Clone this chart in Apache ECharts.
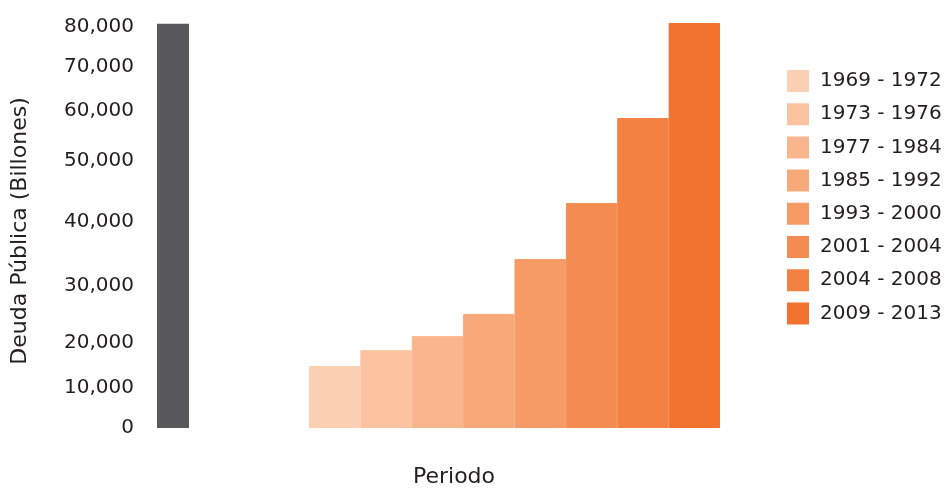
<!DOCTYPE html>
<html>
<head>
<meta charset="utf-8">
<style>
  html, body { margin: 0; padding: 0; background: #ffffff; }
  #chart { width: 944px; height: 489px; }
</style>
<script src="https://cdn.jsdelivr.net/npm/echarts@6/dist/echarts.min.js"></script>
</head>
<body>
<div id="chart"></div>
<script>
// Public debt per presidential period (billions)
const periods = ['1969 - 1972', '1973 - 1976', '1977 - 1984', '1985 - 1992',
                 '1993 - 2000', '2001 - 2004', '2004 - 2008', '2009 - 2013'];
const debt = [14900, 18400, 21200, 25100, 34200, 43100, 58600, 81000];
const referenceDebt = [80800];
const tickValues = [0, 10000, 20000, 30000, 40000, 50000, 60000, 70000, 80000];

const periodColors = ['#fcd1b3', '#fbc39f', '#f9b58b', '#f7a979',
                      '#f69a66', '#f48c52', '#f38141', '#f2732d'];

// The value axis is stretched unevenly between its ticks: each tick
// value is paired with the height (in axis units) where it sits.
const tickHeights = [0, 40, 85, 142, 206, 267, 317, 361, 401];

function toAxis(v) {
  for (let i = 1; i < tickValues.length; i++) {
    if (v <= tickValues[i] || i === tickValues.length - 1) {
      const v0 = tickValues[i - 1], v1 = tickValues[i];
      const h0 = tickHeights[i - 1], h1 = tickHeights[i];
      return h0 + (v - v0) * (h1 - h0) / (v1 - v0);
    }
  }
  return 0;
}
function tickLabel(h) {
  const idx = tickHeights.indexOf(h);
  return idx >= 0 ? tickValues[idx].toLocaleString('en-US') : '';
}

const FONT = 'DejaVu Sans';
const TEXT = '#231f20';
const AXIS_MAX = 420;

const chart = echarts.init(document.getElementById('chart'), null, { renderer: 'canvas' });

const periodSeries = periods.map((p, i) => ({
  name: p,
  type: 'bar',
  xAxisIndex: 1,
  yAxisIndex: 1,
  stack: 'periodo',
  barCategoryGap: 0,
  itemStyle: { color: periodColors[i], borderColor: periodColors[i], borderWidth: 1 },
  data: periods.map((_, j) => (j === i ? toAxis(debt[i]) : null))
}));

chart.setOption({
  animation: false,
  backgroundColor: '#ffffff',
  textStyle: { fontFamily: FONT },
  grid: [
    { left: 157, width: 32, top: 428 - AXIS_MAX, bottom: 61 },
    { left: 309, right: 224, top: 428 - AXIS_MAX, bottom: 61 }
  ],
  xAxis: [
    { type: 'category', gridIndex: 0, data: ['Total'], show: false },
    { type: 'category', gridIndex: 1, data: periods, show: false }
  ],
  yAxis: [
    {
      type: 'value', gridIndex: 0, min: 0, max: AXIS_MAX,
      axisLine: { show: false }, axisTick: { show: false }, splitLine: { show: false },
      axisLabel: {
        customValues: tickHeights,
        formatter: v => tickLabel(v),
        margin: 23,
        fontSize: 20,
        color: TEXT,
        fontFamily: FONT
      }
    },
    {
      type: 'value', gridIndex: 1, min: 0, max: AXIS_MAX, show: false,
      splitLine: { show: false }
    }
  ],
  legend: {
    orient: 'vertical',
    left: 782,
    top: 65,
    icon: 'rect',
    itemWidth: 20,
    itemHeight: 20,
    itemGap: 11.2,
    data: periods,
    textStyle: { fontSize: 20, lineHeight: 20, color: TEXT, fontFamily: FONT, padding: [0, 0, 0, 7] }
  },
  graphic: [
    {
      type: 'text', x: 454, y: 477,
      style: { text: 'Periodo', font: '22px "DejaVu Sans"', fill: TEXT, textAlign: 'center', textVerticalAlign: 'middle' }
    },
    {
      type: 'text', x: 20, y: 231, rotation: Math.PI / 2,
      style: { text: 'Deuda Pública (Billones)', font: '22px "DejaVu Sans"', fill: TEXT, textAlign: 'center', textVerticalAlign: 'middle' }
    }
  ],
  series: [
    {
      name: 'Total',
      type: 'bar',
      xAxisIndex: 0,
      yAxisIndex: 0,
      barCategoryGap: 0,
      itemStyle: { color: '#58585a' },
      data: referenceDebt.map(v => toAxis(v))
    },
    ...periodSeries
  ]
});
</script>
</body>
</html>
